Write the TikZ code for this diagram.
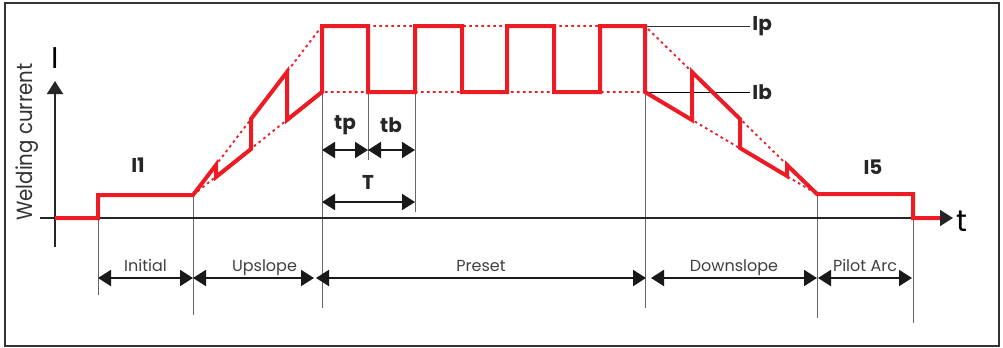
\documentclass[tikz,border=0pt]{standalone}
\usepackage{fontspec}
\setmainfont{Poppins}
\newfontfamily\narrowfont[FakeStretch=0.9]{Poppins}
\usetikzlibrary{positioning, arrows.meta, calc}

\definecolor{weldred}{RGB}{237,28,36}

\begin{document}
\begin{tikzpicture}[x=0.5pt, y=-0.5pt, >={Triangle[length=6.5pt,width=8pt]},
		axis/.style={draw=black!85, line width=0.9pt},
		current/.style={draw=weldred, line width=2pt, line join=miter},
		envelope/.style={draw=weldred, line width=0.9pt, dash pattern=on 1.3pt off 1.7pt},
		guide/.style={draw=black!60, line width=0.5pt},
		dim/.style={<->, draw=black!90, line width=1pt},
		phase/.style={font=\fontsize{8}{9}\selectfont, text=black!75, text depth=0pt, inner sep=1pt},
		tag/.style={font=\bfseries\fontsize{10}{11}\selectfont, text=black!85, inner sep=1pt}]
	\useasboundingbox (0,0) rectangle (1003,348);
	\draw[line width=1.2pt, black!80] (5,3) rectangle (999,346);

	% time instants
	\coordinate (t0) at (98,218);
	\coordinate (t1) at (193,195);
	\coordinate (t2) at (322,92);
	\coordinate (t2p) at (322,26);
	\coordinate (tpe) at (368,92);
	\coordinate (tbe) at (415,92);
	\coordinate (t3) at (645,92);
	\coordinate (t3p) at (645,26);
	\coordinate (t4) at (817,194);
	\coordinate (t5) at (913,218);

	% guide lines
	\draw[guide] (t0) -- (98,295);
	\draw[guide] (t1) -- (193,315);
	\draw[guide] (t2) -- (322,308);
	\draw[guide] (tpe) -- (368,160);
	\draw[guide] (tbe) -- (415,212);
	\draw[guide] (t3) -- (645,308);
	\draw[guide] (t4) -- (817,318);
	\draw[guide] (t5) -- (913,323);

	% axes
	\draw[axis, ->] (40,218) -- (953,218) coordinate (tend);
	\draw[axis, ->] (55,247) -- (55,81) coordinate (iend);
	\node (tlbl) [anchor=west, inner sep=0pt, font=\fontsize{15}{15}\selectfont] at (956,221) {t};
	\node (ilbl) [font=\fontsize{15}{15}\selectfont] at (55,58) {I};
	\node (wlbl) [rotate=90, font=\narrowfont\fontsize{11}{12}\selectfont, text=black!80] at (27,142) {Welding current};

	% envelopes
	\draw[envelope] (t1) -- (t2p) -- (t3p) -- (t4);
	\draw[envelope] (t1) -- (t2) -- (t3) -- (t4);

	% Ip / Ib markers
	\coordinate (ipend) at (748,26);
	\coordinate (ibend) at (748,92);
	\node (Ip) [tag, right=1pt of ipend] {Ip};
	\node (Ib) [tag, right=1pt of ibend] {Ib};
	\draw[guide, black!80] (t3p) -- (Ip);
	\draw[guide, black] (t3) -- (Ib);

	% welding current
	\draw[current] (55,218) -- (t0) -- (98,195) -- (t1)
		-- (216,165) -- (216,177) -- (251,149) -- (251,119) -- (287,72) -- (287,120) -- (t2)
		-- (t2p) -- (368,26) -- (tpe) -- (tbe) -- (415,26) -- (462,26) -- (462,92)
		-- (507,92) -- (507,26) -- (554,26) -- (554,92) -- (600,92) -- (600,26) -- (t3p) -- (t3)
		-- (692,120) -- (692,72) -- (740,119) -- (740,148) -- (787,176) -- (787,165) -- (t4)
		-- (913,194) -- (t5) -- (940,218);

	\node (I1) [tag] at (138,165) {I1};
	\node (I5) [tag] at (873,167) {I5};

	% pulse timing
	\draw[dim] (322,150) -- (368,150);
	\draw[dim] (368,150) -- (415,150);
	\draw[dim] (322,202) -- (415,202);
	\node (tp) [tag] at (345,125) {tp};
	\node (tb) [tag] at (391,125) {tb};
	\node (T) [tag] at (368,182) {T};

	% phases
	\draw[dim] (98,278) -- node[phase, above=2pt] {Initial} (193,278);
	\draw[dim] (193,278) -- node[phase, above=2pt, xshift=5.5pt] {Upslope} (314,278);
	\draw[dim] (316,278) -- node[phase, above=2pt] {Preset} (646,278);
	\draw[dim] (651,278) -- node[phase, above=2pt] {Downslope} (817,278);
	\draw[dim] (818,278) -- node[phase, above=2pt] {Pilot Arc} (912,278);
\end{tikzpicture}
\end{document}
